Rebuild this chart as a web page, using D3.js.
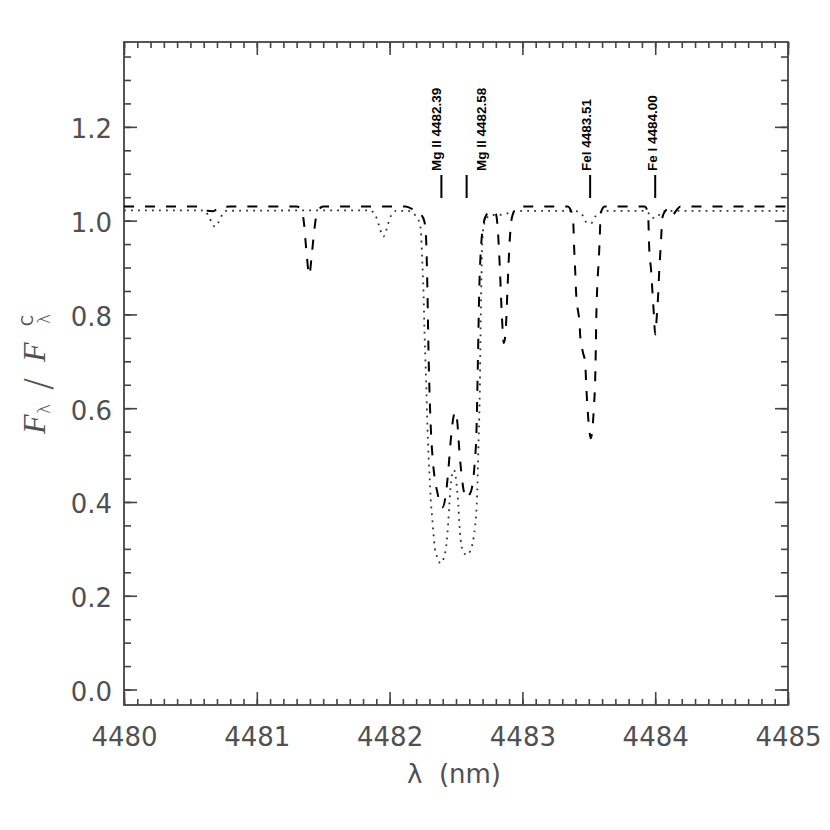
<!DOCTYPE html>
<html><head><meta charset="utf-8">
<script src="https://cdn.jsdelivr.net/npm/d3@7"></script>
<style>body{margin:0;background:#fff}</style>
</head><body><svg id="c" width="830" height="830"></svg>
<script>
// ---- data ----
const dashedWavelength = [4480.00,4480.58,4480.63,4480.67,4480.72,4480.80,4481.30,4481.34,4481.355,4481.375,4481.395,4481.415,4481.435,4481.455,4481.50,
 4482.12,4482.18,4482.24,4482.262,4482.275,4482.285,4482.293,4482.30,4482.31,4482.325,4482.34,4482.36,4482.38,4482.40,4482.42,4482.44,4482.46,4482.48,4482.495,4482.51,4482.525,4482.545,4482.565,4482.58,4482.60,4482.62,4482.64,4482.655,4482.665,4482.675,4482.69,4482.705,4482.73,4482.77,4482.80,4482.815,4482.83,4482.845,4482.86,4482.875,4482.89,4482.905,4482.92,4482.95,4483.00,
 4483.34,4483.37,4483.383,4483.39,4483.398,4483.405,4483.423,4483.43,4483.435,4483.455,4483.473,4483.48,4483.49,4483.505,4483.515,4483.53,4483.54,4483.548,4483.553,4483.557,4483.565,4483.575,4483.582,4483.59,4483.62,
 4483.92,4483.946,4483.955,4483.97,4483.98,4483.99,4484.00,4484.013,4484.023,4484.03,4484.04,4484.056,4484.075,4484.10,4484.13,4484.16,4484.19,4485.00];
const dashedFlux = [1.030,1.030,1.021,1.020,1.029,1.030,1.030,1.022,0.995,0.930,0.884,0.930,0.985,1.018,1.030,
 1.030,1.023,1.012,0.998,0.960,0.850,0.720,0.640,0.560,0.490,0.450,0.420,0.395,0.389,0.410,0.460,0.530,0.580,0.592,0.570,0.510,0.450,0.415,0.408,0.415,0.430,0.480,0.560,0.700,0.850,0.950,0.990,1.013,1.021,1.015,0.980,0.900,0.800,0.739,0.770,0.870,0.960,1.005,1.025,1.030,
 1.030,1.018,0.995,0.940,0.890,0.843,0.800,0.785,0.755,0.720,0.697,0.652,0.602,0.550,0.536,0.565,0.610,0.660,0.730,0.800,0.867,0.916,0.960,1.016,1.030,
 1.030,1.016,0.941,0.891,0.845,0.800,0.757,0.800,0.845,0.891,0.938,1.009,1.020,1.025,1.012,1.022,1.030,1.030];

const dottedWavelength = [4480.00,4480.60,4480.64,4480.665,4480.685,4480.705,4480.73,4480.77,
 4481.85,4481.895,4481.92,4481.94,4481.953,4481.967,4481.985,4482.01,4482.05,
 4482.13,4482.18,4482.20,4482.225,4482.235,4482.245,4482.255,4482.262,4482.27,4482.278,4482.285,4482.293,4482.302,4482.31,4482.32,4482.33,4482.341,4482.358,4482.384,4482.40,4482.417,4482.43,4482.44,4482.45,4482.46,4482.472,4482.485,4482.497,4482.507,4482.517,4482.525,4482.535,4482.554,4482.58,4482.605,4482.625,4482.643,4482.655,4482.662,4482.668,4482.675,4482.68,4482.683,4482.687,4482.691,4482.696,4482.706,4482.73,4482.77,4482.82,4482.87,4482.95,
 4483.40,4483.43,4483.46,4483.485,4483.52,4483.55,4483.58,4483.62,
 4483.92,4483.95,4483.975,4484.01,4484.04,4484.08,4485.00];
const dottedFlux = [1.022,1.022,1.008,0.993,0.987,0.993,1.008,1.021,
 1.022,1.010,0.990,0.972,0.966,0.972,0.990,1.010,1.021,
 1.021,1.015,1.009,0.995,0.980,0.920,0.850,0.770,0.700,0.630,0.560,0.500,0.450,0.404,0.369,0.333,0.301,0.283,0.269,0.275,0.290,0.315,0.350,0.395,0.435,0.460,0.468,0.455,0.430,0.395,0.355,0.320,0.294,0.287,0.294,0.312,0.347,0.390,0.440,0.510,0.580,0.650,0.720,0.800,0.870,0.940,0.984,1.005,1.012,1.012,1.014,1.021,
 1.021,1.016,1.009,0.995,0.995,1.009,1.016,1.021,
 1.021,1.016,1.006,1.006,1.016,1.021,1.021];

const xTickValues = [4480,4481,4482,4483,4484,4485];
const yTickValues = [0.0,0.2,0.4,0.6,0.8,1.0,1.2];
const lineNames = ["Mg II 4482.39","Mg II 4482.58","FeI 4483.51","Fe I 4484.00"];
const lineWavelengths = [4482.39,4482.58,4483.51,4484.00];
const xAxisTitle = "λ\u00a0\u00a0(nm)";

// ---- layout ----
const L=124,R=788,T=42,B=705;
const svg = d3.select("#c");
const x = d3.scaleLinear().domain([4480,4485]).range([L,R]);
const y = d3.scaleLinear().domain([-0.033,1.381]).range([B,T]);
const axisColor = "#444";
const textColor = "#505050";
const tickFont = "'DejaVu Sans', sans-serif";

function styleAxis(g){
  g.select(".domain").remove();
  g.selectAll("line").attr("stroke",axisColor).attr("stroke-width",1.6);
  g.selectAll("text").attr("font-family",tickFont)
   .attr("font-size",26).attr("fill",textColor);
}
const xMinor = d3.range(4480,4485.001,0.1);
const yMinor = d3.range(0,1.3801,0.05);

// bottom
svg.append("g").attr("transform",`translate(0,${B})`)
  .call(d3.axisBottom(x).tickValues(xMinor).tickSize(-6).tickFormat("")).call(styleAxis);
svg.append("g").attr("transform",`translate(0,${B})`)
  .call(d3.axisBottom(x).tickValues(xTickValues).tickSize(-13).tickPadding(23).tickFormat(d3.format("d"))).call(styleAxis);
// top
svg.append("g").attr("transform",`translate(0,${T})`)
  .call(d3.axisTop(x).tickValues(xMinor).tickSize(-6).tickFormat("")).call(styleAxis);
svg.append("g").attr("transform",`translate(0,${T})`)
  .call(d3.axisTop(x).tickValues(xTickValues).tickSize(-13).tickFormat("")).call(styleAxis);
// left
svg.append("g").attr("transform",`translate(${L},0)`)
  .call(d3.axisLeft(y).tickValues(yMinor).tickSize(-7).tickFormat("")).call(styleAxis);
const yl = svg.append("g").attr("transform",`translate(${L},0)`)
  .call(d3.axisLeft(y).tickValues(yTickValues).tickSize(-13).tickPadding(12).tickFormat(d3.format(".1f"))).call(styleAxis);
yl.selectAll("text").attr("dy","0.42em");
// right
svg.append("g").attr("transform",`translate(${R},0)`)
  .call(d3.axisRight(y).tickValues(yMinor).tickSize(-7).tickFormat("")).call(styleAxis);
svg.append("g").attr("transform",`translate(${R},0)`)
  .call(d3.axisRight(y).tickValues(yTickValues).tickSize(-13).tickFormat("")).call(styleAxis);

// frame
svg.append("rect").attr("x",L).attr("y",T).attr("width",R-L).attr("height",B-T)
  .attr("fill","none").attr("stroke",axisColor).attr("stroke-width",1.8);

// spectra
const line = d3.line().x(d=>x(d[0])).y(d=>y(d[1])).curve(d3.curveMonotoneX);
const dotted = dottedWavelength.map((w,i)=>[w,dottedFlux[i]]);
const dashed = dashedWavelength.map((w,i)=>[w,dashedFlux[i]]);
svg.append("path").datum(dotted).attr("d",line).attr("fill","none")
  .attr("stroke","#333").attr("stroke-width",1.8).attr("stroke-dasharray","1.8,5.2");
svg.append("path").datum(dashed).attr("d",line).attr("fill","none")
  .attr("stroke","#000").attr("stroke-width",2).attr("stroke-dasharray","10,11");

// line identifications
const labelShift = [0, 19, 0.5, 1.5];
const lg = svg.append("g");
lineWavelengths.forEach((w,i)=>{
  lg.append("line").attr("x1",x(w)).attr("x2",x(w)).attr("y1",175).attr("y2",198)
    .attr("stroke","#000").attr("stroke-width",2);
  lg.append("text").attr("transform",`translate(${x(w)+labelShift[i]},171) rotate(-90)`)
    .attr("font-family","'Liberation Sans', Arial, sans-serif").attr("font-weight","bold")
    .attr("font-size",13.5).attr("fill","#000").text(lineNames[i]);
});

// axis titles
svg.append("text").attr("x",454).attr("y",783).attr("text-anchor","middle")
  .attr("font-family",tickFont).attr("font-size",26).attr("fill",textColor).text(xAxisTitle);

const yTitle = svg.append("g").attr("fill",textColor);
function ytext(bx, sy, size, family, italic, weight, str){
  yTitle.append("text").attr("transform",`translate(${bx},${sy}) rotate(-90)`)
    .attr("font-family",family).attr("font-style",italic?"italic":"normal")
    .attr("font-weight",weight).attr("font-size",size).text(str);
}
const serif = "'Liberation Serif', 'DejaVu Serif', serif";
ytext(45, 434, 32, serif, true, "normal", "F");
ytext(50, 414, 17, tickFont, false, 200, "λ");
ytext(50, 390, 36, tickFont, false, 200, "/");
ytext(45, 362, 32, serif, true, "normal", "F");
ytext(33, 326, 15.5, tickFont, false, "normal", "C");
ytext(50, 324, 17, tickFont, false, 200, "λ");
</script></body></html>
